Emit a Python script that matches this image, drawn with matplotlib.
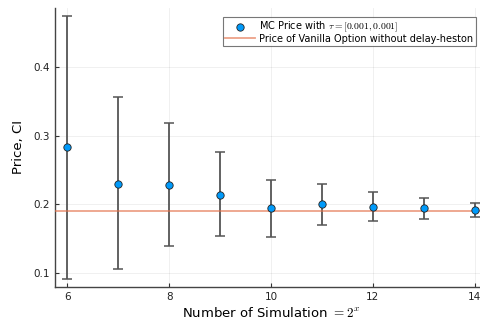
import matplotlib
matplotlib.use("Agg")
import matplotlib.pyplot as plt
import numpy as np

plt.rcParams["mathtext.fontset"] = "cm"
plt.rcParams["font.family"] = "DejaVu Sans"

# log2 of the number of simulations
exponents = [6, 7, 8, 9, 10, 11, 12, 13, 14]
# Monte Carlo price estimates
mc_price = [0.283, 0.2303, 0.2289, 0.2140, 0.1942, 0.2000, 0.1966, 0.1942, 0.1923]
# confidence interval bounds
ci_lower = [0.0918, 0.1062, 0.1398, 0.1538, 0.1534, 0.1701, 0.1760, 0.1794, 0.1817]
ci_upper = [0.4736, 0.3553, 0.3188, 0.2755, 0.2350, 0.2293, 0.2178, 0.2091, 0.2029]
# reference price of the vanilla option
vanilla_price = 0.1903

x_ticks = [6, 8, 10, 12, 14]
y_ticks = [0.1, 0.2, 0.3, 0.4]

fig = plt.figure(figsize=(4.81, 3.25), dpi=100)
ax = fig.add_axes([55 / 481, 1 - 287 / 325, (487 - 55) / 481, (287 - 8) / 325])

price = np.array(mc_price)
yerr = np.vstack([price - np.array(ci_lower), np.array(ci_upper) - price])

ax.errorbar(exponents, mc_price, yerr=yerr, fmt="none", ecolor="#555555",
            elinewidth=1.3, capsize=3.5, capthick=1.1, zorder=2)
ax.scatter(exponents, mc_price, s=28, color="#009AFA", edgecolor="#222222",
           linewidth=0.6, zorder=4,
           label=r"MC Price with $\tau = [0.001, 0.001]$")
ax.axhline(vanilla_price, color="#E36F47", alpha=0.65, linewidth=1.3, zorder=3,
           label="Price of Vanilla Option without delay-heston")

ax.set_xlim(5.76, 14.24)
ax.set_ylim(0.0803, 0.4851)
ax.set_xticks(x_ticks)
ax.set_yticks(y_ticks)
ax.set_yticklabels([f"{v:.1f}" for v in y_ticks])
ax.tick_params(direction="in", length=3, width=0.8, labelsize=7.5, colors="#333333",
               labelcolor="#222222")
ax.grid(True, color="#000000", alpha=0.07, linewidth=0.6)
ax.set_axisbelow(True)
for side in ["top", "right"]:
    ax.spines[side].set_visible(False)
for side in ["left", "bottom"]:
    ax.spines[side].set_color("#444444")
    ax.spines[side].set_linewidth(1.0)

ax.set_xlabel(r"Number of Simulation $=2^x$", fontsize=9.5, labelpad=3)
ax.set_ylabel("Price, CI", fontsize=9.5, labelpad=6)

leg = ax.legend(loc="upper right",
                bbox_to_anchor=((476 - 55) / 432, (287 - 17) / 279),
                fontsize=7, frameon=True, fancybox=False, borderpad=0.25,
                handlelength=3.0, handletextpad=0.5, labelspacing=0.0,
                borderaxespad=0)
leg.get_frame().set_edgecolor("#555555")
leg.get_frame().set_linewidth(0.8)

fig.savefig("out.png", dpi=100)
